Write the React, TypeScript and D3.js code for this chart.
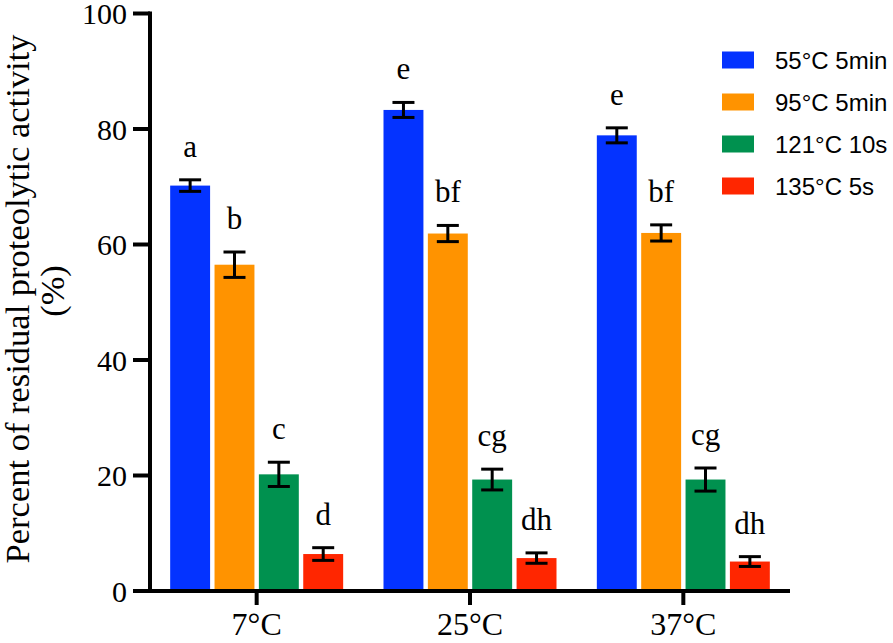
import React from 'react';
import * as d3 from 'd3';

const categories = ['7°C', '25°C', '37°C'];
const seriesNames = ['55°C 5min', '95°C 5min', '121°C 10s', '135°C 5s'];
const seriesColors = ['#0433FF', '#FF9300', '#00914F', '#FF2600'];

// mean per series, in category order
const means = [
  [70.2, 83.3, 78.9],
  [56.5, 61.9, 62.0],
  [20.2, 19.3, 19.3],
  [6.4, 5.7, 5.1],
];
const errors = [
  [1.0, 1.3, 1.3],
  [2.2, 1.4, 1.4],
  [2.1, 1.8, 2.0],
  [1.1, 0.9, 0.85],
];
const letters = [
  ['a', 'e', 'e'],
  ['b', 'bf', 'bf'],
  ['c', 'cg', 'cg'],
  ['d', 'dh', 'dh'],
];
const yTicks = [0, 20, 40, 60, 80, 100];

const width = 893;
const height = 643;
const serif = '"Liberation Serif", "Times New Roman", serif';
const sans = '"Liberation Sans", Arial, sans-serif';

const App: React.FC = () => {
  const x = d3.scaleBand().domain(categories).range([150, 790]).padding(0);
  const groupW = 173;
  const xs = d3.scaleBand<number>()
    .domain(d3.range(seriesNames.length))
    .range([-groupW / 2, groupW / 2])
    .paddingInner(0.1);
  const y = d3.scaleLinear().domain([0, 100]).range([591, 13.5]);

  const capW = 22;

  return (
    <svg width={width} height={height} style={{ position: 'absolute', left: 0, top: 0, background: '#fff' }}>
      {/* bars */}
      {means.map((row, s) =>
        row.map((v, c) => {
          const cx = x(categories[c])! + x.bandwidth() / 2;
          const bx = cx + xs(s)!;
          return (
            <rect
              key={`b${s}-${c}`}
              x={bx}
              y={y(v)}
              width={xs.bandwidth()}
              height={y(0) - y(v)}
              fill={seriesColors[s]}
            />
          );
        })
      )}

      {/* error bars and letters */}
      {means.map((row, s) =>
        row.map((v, c) => {
          const cx = x(categories[c])! + x.bandwidth() / 2;
          const mx = cx + xs(s)! + xs.bandwidth() / 2;
          const e = errors[s][c];
          const top = y(v + e);
          const bot = y(v - e);
          return (
            <g key={`e${s}-${c}`} stroke="#000" strokeWidth={3}>
              <line x1={mx} x2={mx} y1={top} y2={bot} />
              <line x1={mx - capW / 2} x2={mx + capW / 2} y1={top} y2={top} />
              <line x1={mx - capW / 2} x2={mx + capW / 2} y1={bot} y2={bot} />
              <text
                x={mx}
                y={top - 23}
                stroke="none"
                fill="#000"
                textAnchor="middle"
                fontFamily={serif}
                fontSize={31}
              >
                {letters[s][c]}
              </text>
            </g>
          );
        })
      )}

      {/* y axis */}
      <line x1={150} x2={150} y1={y(100) - 2} y2={y(0) + 2} stroke="#000" strokeWidth={4} />
      {yTicks.map((t) => (
        <g key={`yt${t}`}>
          <line x1={133} x2={150} y1={y(t)} y2={y(t)} stroke="#000" strokeWidth={4} />
          <text
            x={127}
            y={y(t)}
            dy="0.35em"
            textAnchor="end"
            fontFamily={serif}
            fontSize={30}
          >
            {t}
          </text>
        </g>
      ))}

      {/* x axis */}
      <line x1={148} x2={790} y1={y(0)} y2={y(0)} stroke="#000" strokeWidth={4} />
      {categories.map((c) => {
        const cx = x(c)! + x.bandwidth() / 2;
        return (
          <g key={`xt${c}`}>
            <line x1={cx} x2={cx} y1={y(0)} y2={y(0) + 14} stroke="#000" strokeWidth={4} />
            <text x={cx} y={635} textAnchor="middle" fontFamily={serif} fontSize={32}>
              {c}
            </text>
          </g>
        );
      })}

      {/* y title */}
      <g transform="translate(0,299) rotate(-90)" fontFamily={serif} fontSize={34.5} textAnchor="middle">
        <text x={0} y={29}>Percent of residual proteolytic activity</text>
        <text x={8} y={64}>(%)</text>
      </g>

      {/* legend */}
      {seriesNames.map((n, i) => {
        const ly = 60 + i * 42;
        return (
          <g key={`lg${i}`}>
            <rect x={722} y={ly - 8.5} width={32} height={17} fill={seriesColors[i]} />
            <text x={775} y={ly} dy="0.36em" fontFamily={sans} fontSize={24}>
              {n}
            </text>
          </g>
        );
      })}
    </svg>
  );
};

export default App;
